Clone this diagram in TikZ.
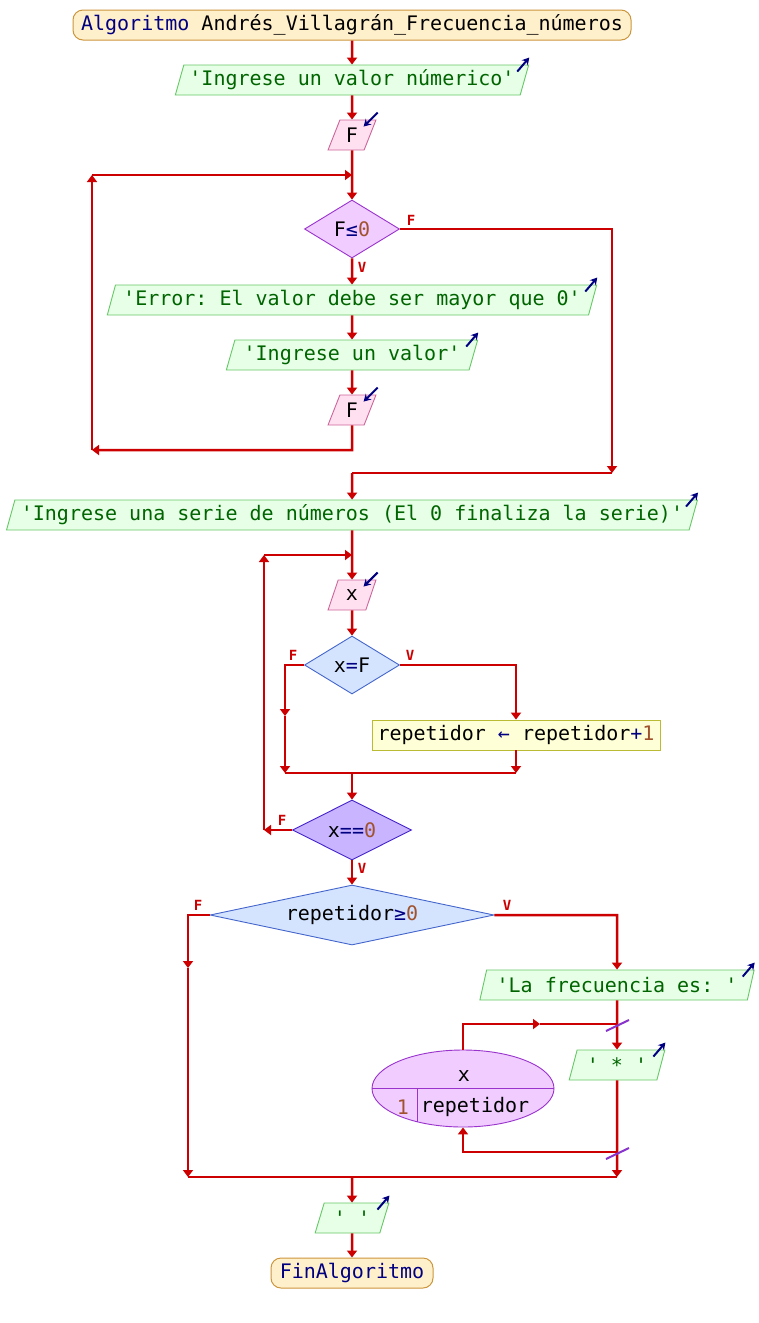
\documentclass[tikz,border=0pt]{standalone}
\usepackage{fontspec}
\setmonofont{DejaVu Sans Mono}
\usetikzlibrary{shapes.geometric,arrows.meta,calc}
\definecolor{connc}{RGB}{204,0,0}
\definecolor{navy}{RGB}{0,0,128}
\definecolor{numc}{RGB}{160,82,45}
\definecolor{strc}{RGB}{0,100,0}
\definecolor{outfill}{RGB}{230,255,230}
\definecolor{outdraw}{RGB}{102,200,102}
\definecolor{infill}{RGB}{255,224,240}
\definecolor{indraw}{RGB}{204,102,153}
\definecolor{termfill}{RGB}{255,240,204}
\definecolor{termdraw}{RGB}{204,150,60}
\definecolor{pfill}{RGB}{240,204,255}
\definecolor{pdraw}{RGB}{153,51,204}
\definecolor{bfill}{RGB}{212,228,255}
\definecolor{bdraw}{RGB}{68,102,204}
\definecolor{vfill}{RGB}{200,180,255}
\definecolor{vdraw}{RGB}{68,34,204}
\definecolor{profill}{RGB}{255,255,215}
\definecolor{prodraw}{RGB}{187,187,51}
\definecolor{slashc}{RGB}{136,51,204}
\newcommand\qq{\char"0027\relax}
\begin{document}
\begin{tikzpicture}[x=1pt,y=-1pt,
  font=\ttfamily\fontsize{20}{24}\selectfont,
  conn/.style={draw=connc, line width=2.5pt},
  arr/.style={conn, -{Triangle[length=7pt,width=10pt]}},
  term/.style={draw=termdraw, fill=termfill, rounded corners=10pt, minimum height=30pt, inner sep=0pt, line width=1pt},
  io/.style={trapezium, trapezium left angle=68, trapezium right angle=112, trapezium stretches=true, minimum height=30pt, inner sep=0pt, line width=0.9pt},
  outp/.style={io, draw=outdraw, fill=outfill, text=strc},
  inp/.style={io, draw=indraw, fill=infill},
  dec/.style={diamond, aspect=#1, inner sep=0pt, line width=0.9pt},
  proc/.style={draw=prodraw, fill=profill, minimum height=30pt, inner sep=0pt, line width=0.9pt},
  lab/.style={text=connc, font=\ttfamily\bfseries\fontsize{14}{14}\selectfont, inner sep=0pt},
  icon/.style={draw=navy, line width=2pt, -{Stealth[length=7pt,width=8pt]}},
  slashmark/.style={draw=slashc, line width=2pt}
]
\useasboundingbox[fill=white] (0,0) rectangle (759,1323);

% nodes
\node[term, minimum width=558pt] (start) at (352,25) {\textcolor{navy}{Algoritmo} Andrés\_Villagrán\_Frecuencia\_números};
\node[outp, minimum width=355pt] (o1) at (352,80) {\qq Ingrese un valor númerico\qq};
\node[inp, minimum width=48pt] (i1) at (352,135) {F};
\node[dec=1.6, fill=pfill, draw=pdraw, minimum width=95pt, minimum height=58pt] (d1) at (352,229) {F\textcolor{navy}{≤}\textcolor{numc}{0}};
\node[outp, minimum width=491pt] (e1) at (352,300) {\qq Error: El valor debe ser mayor que 0\qq};
\node[outp, minimum width=252pt] (o2) at (352,355) {\qq Ingrese un valor\qq};
\node[inp, minimum width=48pt] (i2) at (352,410) {F};
\node[outp, minimum width=695pt] (o3) at (352,515) {\qq Ingrese una serie de números (El 0 finaliza la serie)\qq};
\node[inp, minimum width=48pt] (i3) at (352,595) {x};
\node[dec=1.6, fill=bfill, draw=bdraw, minimum width=95pt, minimum height=58pt] (d2) at (352,665) {x\textcolor{navy}{=}F};
\node[proc, minimum width=288pt] (p1) at (516,735) {repetidor \textcolor{navy}{←} repetidor\textcolor{navy}{+}\textcolor{numc}{1}};
\node[dec=2, fill=vfill, draw=vdraw, minimum width=119pt, minimum height=60pt] (d3) at (352,830) {x\textcolor{navy}{==}\textcolor{numc}{0}};
\node[dec=4.7, fill=bfill, draw=bdraw, minimum width=284pt, minimum height=60pt] (d4) at (352,915) {repetidor\textcolor{navy}{≥}\textcolor{numc}{0}};
\node[outp, minimum width=275pt] (o4) at (617,985) {\qq La frecuencia es: \qq};
\node[ellipse, fill=pfill, draw=pdraw, line width=0.9pt, minimum width=182pt, minimum height=77pt, inner sep=0pt] (loop) at (463,1088.5) {};
\node[outp, minimum width=96pt] (o5) at (617,1065) {\qq{} * \qq};
\node[outp, minimum width=74pt] (o6) at (352,1218) {\qq{} \qq};
\node[term, minimum width=162pt] (fin) at (352,1273) {\textcolor{navy}{FinAlgoritmo}};

% loop ellipse details
\draw[draw=pdraw, line width=0.9pt] (loop.west) -- (loop.east);
\coordinate (dvt) at (417,1088.5);
\coordinate (dvb) at (417,1121.7);
\draw[draw=pdraw, line width=0.9pt] (dvt) -- (dvb);
\node (lv) at (464,1076) {x};
\node (li) at (403,1107) {\textcolor{numc}{1}};
\node (lr) at (475,1107) {repetidor};

% icons
\foreach \n in {o1,e1,o2,o3,o4,o5,o6}{
  \draw[icon] ($(\n.top right corner)+(-12,7)$) -- ++(12,-14);
}
\foreach \n in {i1,i2,i3}{
  \draw[icon] ($(\n.top right corner)+(1,-7)$) -- ++(-14,14);
}

% coordinates
\coordinate (j1) at (352,175);
\coordinate (j1l) at (92,175);
\coordinate (j1b) at (92,450);
\coordinate (i2b) at (352,450);
\coordinate (d1r) at (612,229);
\coordinate (d1rb) at (612,473);
\coordinate (m1) at (352,473);
\coordinate (j2) at (352,555);
\coordinate (j2l) at (264,555);
\coordinate (j2b) at (264,830);
\coordinate (c1) at (285,665);
\coordinate (c1m) at (285,716);
\coordinate (c1b) at (285,773);
\coordinate (c2) at (516,665);
\coordinate (c2b) at (516,773);
\coordinate (m2) at (352,773);
\coordinate (f1) at (188,915);
\coordinate (f1m) at (188,968);
\coordinate (f1b) at (188,1177);
\coordinate (v1) at (617,915);
\coordinate (lt) at (463,1024);
\coordinate (ltm) at (540,1024);
\coordinate (ltr) at (617,1024);
\coordinate (lb) at (617,1152);
\coordinate (lbl) at (463,1152);
\coordinate (v1b) at (617,1177);
\coordinate (m3) at (352,1177);

% connectors
\draw[arr] (start.south) -- (o1.north);
\draw[arr] (o1.south) -- (i1.north);
\draw[arr] (i1.south) -- (d1.north);
\draw[arr] (d1.south) -- (e1.north);
\draw[arr] (e1.south) -- (o2.north);
\draw[arr] (o2.south) -- (i2.north);
\draw[arr] (i2.south) -- (i2b) -- (j1b);
\draw[arr] (j1b) -- (j1l);
\draw[arr] (j1l) -- (j1);
\draw[arr] (d1.east) -- (d1r) -- (d1rb);
\draw[conn] (d1rb) -- (m1);
\draw[arr] (m1) -- (o3.north);
\draw[arr] (o3.south) -- (i3.north);
\draw[arr] (i3.south) -- (d2.north);
\draw[arr] (d2.west) -- (c1) -- (c1m);
\draw[arr] (c1m) -- (c1b);
\draw[arr] (d2.east) -- (c2) -- (p1.north);
\draw[arr] (p1.south) -- (c2b);
\draw[conn] (c1b) -- (c2b);
\draw[arr] (m2) -- (d3.north);
\draw[arr] (d3.west) -- (j2b);
\draw[arr] (j2b) -- (j2l);
\draw[arr] (j2l) -- (j2);
\draw[arr] (d3.south) -- (d4.north);
\draw[arr] (d4.west) -- (f1) -- (f1m);
\draw[arr] (f1m) -- (f1b);
\draw[arr] (d4.east) -- (v1) -- (o4.north);
\draw[arr] (o4.south) -- (o5.north);
\draw[arr] (loop.north) -- (lt) -- (ltm);
\draw[conn] (ltm) -- (ltr);
\draw[arr] (o5.south) -- (v1b);
\draw[arr] (lb) -- (lbl) -- (loop.south);
\draw[conn] (f1b) -- (v1b);
\draw[arr] (m3) -- (o6.north);
\draw[arr] (o6.south) -- (fin.north);

% slash marks
\draw[slashmark] (606,1031) -- (629,1020);
\draw[slashmark] (606,1159) -- (629,1148);

% labels
\node[lab] (l1f) at (411,220) {F};
\node[lab] (l1v) at (362,267) {V};
\node[lab] (l2f) at (293,655) {F};
\node[lab] (l2v) at (410,655) {V};
\node[lab] (l3f) at (282,820) {F};
\node[lab] (l3v) at (362,868) {V};
\node[lab] (l4f) at (198,905) {F};
\node[lab] (l4v) at (507,905) {V};
\end{tikzpicture}
\end{document}
